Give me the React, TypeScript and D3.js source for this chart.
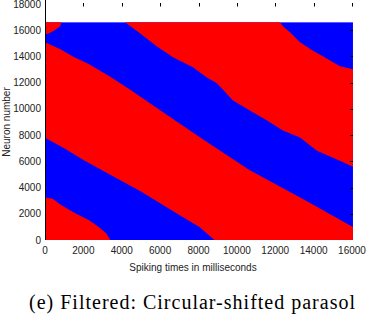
import * as d3 from 'd3';

// spike time axis (ms) and neuron axis
const xTicks = [0, 2000, 4000, 6000, 8000, 10000, 12000, 14000, 16000];
const yTicks = [0, 2000, 4000, 6000, 8000, 10000, 12000, 14000, 16000, 18000];
const tMax = 16050;
const nMax = 16600;

const edge1 = [[0, 3250], [400, 3150], [800, 2700], [1500, 2100], [2300, 1500], [2800, 1000], [3200, 500], [3400, 0]];
const edge2 = [[0, 7800], [1000, 7000], [2000, 6100], [3000, 5300], [4000, 4500], [5000, 3700], [6000, 2800], [7000, 1900], [8050, 990], [8830, 0]];
const edge3 = [[0, 15080], [800, 14550], [1500, 13950], [2300, 13400], [3400, 12450], [4500, 11400], [6000, 9900], [8050, 7850], [10650, 5330], [13250, 3280], [16050, 990]];
const edge4 = [[4170, 16600], [4950, 15770], [5800, 14800], [6670, 13930], [7710, 13170], [8440, 12400], [8960, 11950], [9800, 10640], [10680, 9880], [11570, 9110], [12400, 8350], [13290, 7810], [14170, 6810], [15370, 6050], [16050, 5590]];
const edge5 = [[12250, 16600], [12400, 16300], [12770, 15850], [13290, 15080], [13900, 14500], [14480, 14010], [15370, 13250], [16050, 13020]];
const blob = [[0, 15700], [0, 16600], [850, 16600], [800, 16300], [500, 16000], [200, 15750]];

export default function App() {
  const x = d3.scaleLinear().domain([0, 16000]).range([45, 352]);
  const y = d3.scaleLinear().domain([0, 18000]).range([240, 4]);
  const poly = d3.line<number[]>().x(d => x(d[0])).y(d => y(d[1]));

  const redLow = [[0, 0], ...edge1];
  const redMid = [...edge3, [tMax, 0], ...edge2.slice().reverse()];
  const redTop = [...edge4, ...edge5.slice().reverse()];

  const font = 'Liberation Sans, Arial, sans-serif';

  return (
    <svg width={368} height={314} style={{ position: 'absolute', left: 0, top: 0 }}>
      <rect width={368} height={314} fill="#fff" />
      <rect x={x(0)} y={y(nMax)} width={x(tMax) - x(0)} height={y(0) - y(nMax)} fill="#0000ff" />
      {[redLow, redMid, redTop, blob].map((p, i) => (
        <path key={i} d={poly(p) + 'Z'} fill="#ff0000" />
      ))}

      <line x1={45.5} x2={45.5} y1={0} y2={y(0)} stroke="#000" />
      {xTicks.map(t => (
        <line key={'xt' + t} x1={Math.round(x(t)) + 0.5} x2={Math.round(x(t)) + 0.5} y1={3} y2={6.5} stroke="#000" />
      ))}
      {yTicks.slice(1, -1).map(v => (
        <line key={'yt' + v} x1={350} x2={353} y1={Math.round(y(v)) + 0.5} y2={Math.round(y(v)) + 0.5} stroke="#000" />
      ))}

      <g fontFamily={font} fontSize={10} fill="#222">
        {xTicks.map(t => (
          <text key={'xl' + t} x={x(t)} y={254} textAnchor="middle">{t}</text>
        ))}
        {yTicks.map(v => (
          <text key={'yl' + v} x={41} y={y(v)} dy="0.35em" textAnchor="end">{v}</text>
        ))}
        <text x={193} y={270.5} textAnchor="middle">Spiking times in milliseconds</text>
        <text transform="translate(10,122) rotate(-90)" textAnchor="middle">Neuron number</text>
      </g>

      <text x={192} y={309} textAnchor="middle" fontFamily="Liberation Serif, Times New Roman, serif" fontSize={20}
        textLength={326} lengthAdjust="spacing" fill="#000">
        (e) Filtered: Circular-shifted parasol
      </text>
    </svg>
  );
}
